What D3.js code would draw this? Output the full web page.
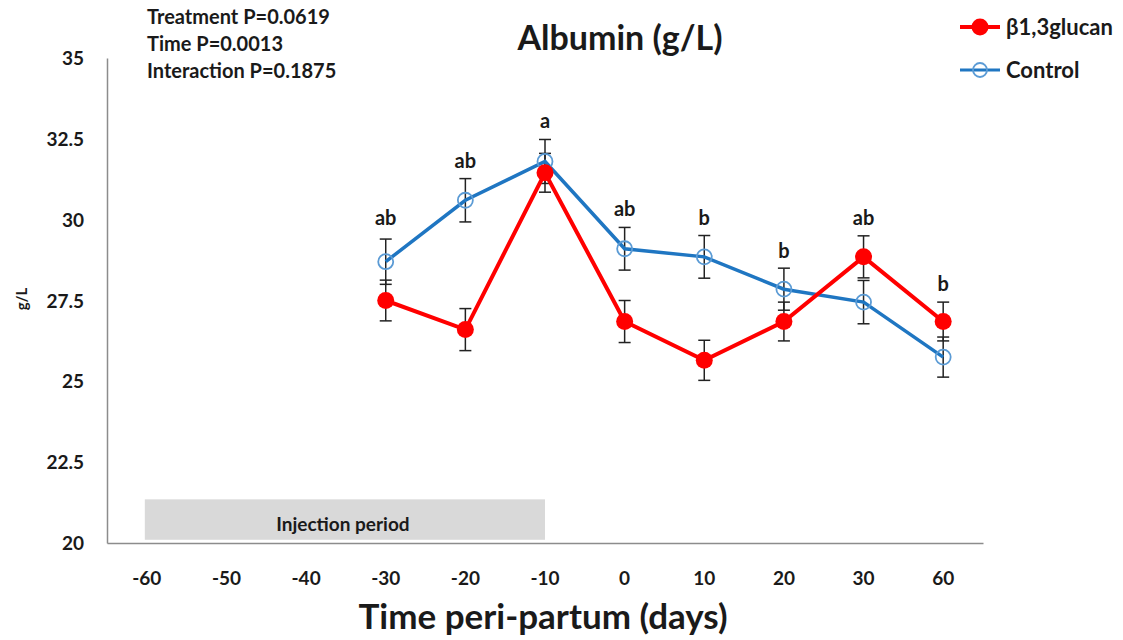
<!DOCTYPE html>
<html><head><meta charset="utf-8">
<script src="https://cdn.jsdelivr.net/npm/d3@7"></script>
<style>body{margin:0;background:#fff}svg{display:block}text{font-family:Lato,"Open Sans",sans-serif;font-weight:bold;fill:#1a1a1a}</style>
</head><body><svg id="c" width="1123" height="640"></svg>
<script>
const categories = ["-60","-50","-40","-30","-20","-10","0","10","20","30","60"];
const seriesDays = ["-30","-20","-10","0","10","20","30","60"];
const glucan = [27.5, 26.6, 31.45, 26.85, 25.65, 26.85, 28.85, 26.85];
const glucanErr = [0.63, 0.65, 0.6, 0.65, 0.62, 0.6, 0.65, 0.6];
const control = [28.7, 30.6, 31.8, 29.1, 28.85, 27.85, 27.45, 25.75];
const controlErr = [0.7, 0.67, 0.68, 0.66, 0.66, 0.65, 0.67, 0.62];
const letters = ["ab","ab","a","ab","b","b","ab","b"];
const letterY = [29.85, 31.6, 32.85, 30.1, 29.85, 28.8, 29.85, 27.8];
const yTicks = [20, 22.5, 25, 27.5, 30, 32.5, 35];
const stats = ["Treatment P=0.0619","Time P=0.0013","Interaction P=0.1875"];
const injection = ["-60","-10"];

const svg = d3.select("#c");
const x = d3.scaleBand().domain(categories).range([107, 983]);
const y = d3.scaleLinear().domain([20, 35]).range([543, 58]);
const cx = d => x(d) + x.bandwidth()/2;

// injection period box
svg.append("rect").attr("x", cx(injection[0])-2).attr("width", cx(injection[1])-cx(injection[0])+2)
  .attr("y", y(21.35)).attr("height", y(20.1)-y(21.35)).attr("fill","#d9d9d9");
svg.append("text").attr("x",(cx(injection[0])+cx(injection[1]))/2 - 3).attr("y",y(20.6)+7)
  .attr("text-anchor","middle").style("font-size","19px").text("Injection period");

// axes
const yAxis = d3.axisLeft(y).tickValues(yTicks).tickSize(0).tickPadding(0).tickFormat(d=>d);
const gy = svg.append("g").attr("transform","translate(107,0)").call(yAxis);
gy.select(".domain").attr("stroke","#8c8c8c").attr("stroke-width",1.5);
gy.selectAll(".tick text").attr("x",-23).attr("dy","0.35em").style("font-size","19px").style("font-family","Lato,sans-serif");
const xAxis = d3.axisBottom(x).tickSize(0).tickPadding(0);
const gx = svg.append("g").attr("transform","translate(0,543)").call(xAxis);
gx.select(".domain").attr("stroke","#8c8c8c").attr("stroke-width",1.5);
gx.selectAll(".tick text").attr("y",35).attr("dy","0.35em").style("font-size","19px").style("font-family","Lato,sans-serif");

svg.append("text").attr("x",543).attr("y",629).attr("text-anchor","middle").style("font-size","35px").text("Time peri-partum (days)");
svg.append("text").attr("transform","translate(27,299) rotate(-90)").attr("text-anchor","middle").style("font-size","15px").text("g/L");
svg.append("text").attr("x",620).attr("y",50).attr("text-anchor","middle").style("font-size","34px").text("Albumin (g/L)");
svg.append("g").selectAll("text").data(stats).join("text").attr("x",147).attr("y",(d,i)=>24+i*27)
  .style("font-size","20px").text(d=>d);

// error bars
function errBars(vals, errs){
  const g = svg.append("g").attr("stroke","#222").attr("stroke-width",1.5);
  seriesDays.forEach((d,i)=>{
    const xx = cx(d), t = y(vals[i]+errs[i]), b = y(vals[i]-errs[i]);
    g.append("line").attr("x1",xx).attr("x2",xx).attr("y1",t).attr("y2",b);
    g.append("line").attr("x1",xx-6).attr("x2",xx+6).attr("y1",t).attr("y2",t);
    g.append("line").attr("x1",xx-6).attr("x2",xx+6).attr("y1",b).attr("y2",b);
  });
}
errBars(control, controlErr);
errBars(glucan, glucanErr);

const line = d3.line().x((d,i)=>cx(seriesDays[i])).y(d=>y(d));
svg.append("path").datum(control).attr("d",line).attr("fill","none").attr("stroke","#1f76c2").attr("stroke-width",3.5);
svg.append("path").datum(glucan).attr("d",line).attr("fill","none").attr("stroke","#ff0000").attr("stroke-width",4);
svg.append("g").selectAll("circle").data(control).join("circle").attr("cx",(d,i)=>cx(seriesDays[i])).attr("cy",d=>y(d))
  .attr("r",7.5).attr("fill","none").attr("stroke","#5b9bd5").attr("stroke-width",1.8);
svg.append("g").selectAll("circle").data(glucan).join("circle").attr("cx",(d,i)=>cx(seriesDays[i])).attr("cy",d=>y(d))
  .attr("r",8.5).attr("fill","#ff0000");

svg.append("g").selectAll("text").data(letters).join("text").attr("x",(d,i)=>cx(seriesDays[i])).attr("y",(d,i)=>y(letterY[i]))
  .attr("text-anchor","middle").style("font-size","20px").text(d=>d);

// legend
const lg = svg.append("g");
lg.append("line").attr("x1",960).attr("x2",1000).attr("y1",27).attr("y2",27).attr("stroke","#ff0000").attr("stroke-width",4);
lg.append("circle").attr("cx",980).attr("cy",27).attr("r",8.5).attr("fill","#ff0000");
lg.append("text").attr("x",1006).attr("y",35).style("font-size","22px").text("β1,3glucan");
lg.append("line").attr("x1",960).attr("x2",1000).attr("y1",70).attr("y2",70).attr("stroke","#1f76c2").attr("stroke-width",3);
lg.append("circle").attr("cx",980).attr("cy",70).attr("r",7).attr("fill","none").attr("stroke","#5b9bd5").attr("stroke-width",1.8);
lg.append("text").attr("x",1006).attr("y",78).style("font-size","22px").text("Control");
</script></body></html>
